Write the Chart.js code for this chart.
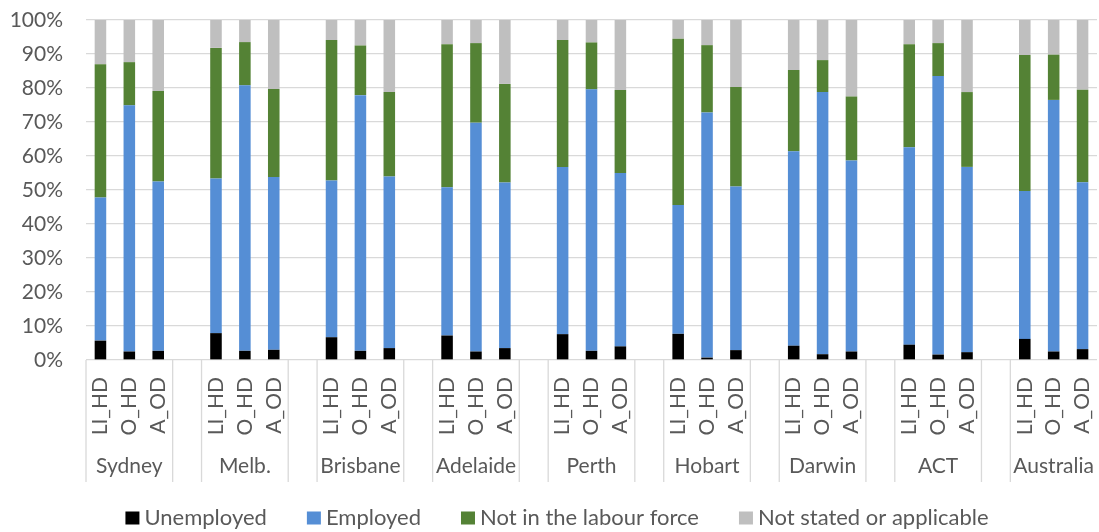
<!DOCTYPE html>
<html lang="en">
<head>
<meta charset="UTF-8">
<title>Labour force status by dwelling type</title>
<script src="https://cdn.jsdelivr.net/npm/chart.js"></script>
<style>
  html, body { margin: 0; padding: 0; background: #fff; }
  #wrap { width: 1099px; height: 532px; }
</style>
</head>
<body>
<div id="wrap"><canvas id="labourChart"></canvas></div>
<script>
    const cities = ["Sydney", "Melb.", "Brisbane", "Adelaide", "Perth", "Hobart", "Darwin", "ACT", "Australia"];
    const dwellingTypes = ["LI_HD", "O_HD", "A_OD"];

    // Shares in %, three per city in LI_HD, O_HD, A_OD order
    const unemployed = [5.7, 2.5, 2.7, 7.9, 2.7, 3.0, 6.7, 2.7, 3.5, 7.2, 2.5, 3.5, 7.6, 2.7, 4.0, 7.7, 0.7, 2.9, 4.2, 1.7, 2.5, 4.5, 1.6, 2.3, 6.2, 2.5, 3.2];
    const employed = [42.1, 72.4, 49.8, 45.5, 78.1, 50.8, 46.1, 75.2, 50.5, 43.6, 67.3, 48.7, 49.2, 76.9, 51.0, 37.9, 72.1, 48.1, 57.2, 77.1, 56.2, 58.1, 81.9, 54.5, 43.5, 74.0, 49.1];
    const notInLabourForce = [39.2, 12.7, 26.6, 38.4, 12.7, 25.9, 41.3, 14.6, 24.8, 42.1, 23.4, 29.0, 37.3, 13.8, 24.4, 48.9, 19.8, 29.3, 23.9, 9.4, 18.8, 30.3, 9.7, 22.0, 40.0, 13.3, 27.2];
    const notStated = [13.0, 12.4, 20.9, 8.2, 6.5, 20.3, 5.9, 7.5, 21.2, 7.1, 6.8, 18.8, 5.9, 6.6, 20.6, 5.5, 7.4, 19.7, 14.7, 11.8, 22.5, 7.1, 6.8, 21.2, 10.3, 10.2, 20.5];

    const FONT = "Lato";
    const TEXT = "#595959";
    const LINE = "#d9d9d9";

    // One empty slot between city groups
    const labels = [];
    cities.forEach((city, ci) => {
        if (ci > 0) labels.push("");
        dwellingTypes.forEach(t => labels.push(t));
    });

    function spread(values) {
        const out = [];
        cities.forEach((city, ci) => {
            if (ci > 0) out.push(null);
            dwellingTypes.forEach((t, ti) => out.push(values[ci * 3 + ti]));
        });
        return out;
    }

    // Two-level category axis (dwelling type + city) and the legend row
    const groupAxis = {
        id: "groupAxis",
        afterDraw(chart) {
            const ctx = chart.ctx;
            const x = chart.scales.x;
            const slot = x.width / labels.length;
            const top = x.top;
            const bottom = x.bottom;

            ctx.save();
            ctx.strokeStyle = LINE;
            ctx.lineWidth = 1.3;
            ctx.fillStyle = TEXT;
            ctx.font = "21px " + FONT;

            // rotated dwelling-type labels, text ending near the axis
            labels.forEach((lab, i) => {
                if (!lab) return;
                ctx.save();
                ctx.translate(x.getPixelForValue(i), top + 17);
                ctx.rotate(-Math.PI / 2);
                ctx.textAlign = "right";
                ctx.textBaseline = "middle";
                ctx.fillText(lab, 0, 0);
                ctx.restore();
            });

            ctx.textAlign = "center";
            ctx.textBaseline = "middle";
            let i = 0;
            cities.forEach((city, ci) => {
                const left = x.getPixelForValue(i) - slot / 2;
                const right = x.getPixelForValue(i + 2) + slot / 2;
                ctx.beginPath();
                ctx.moveTo(left, top);
                ctx.lineTo(left, bottom);
                if (ci < cities.length - 1) {
                    ctx.moveTo(right, top);
                    ctx.lineTo(right, bottom);
                }
                ctx.stroke();
                ctx.fillText(city, x.getPixelForValue(i + 1), 466);
                i += 4;
            });

            // legend row
            ctx.font = "22px " + FONT;
            const items = chart.data.datasets.map(ds => ({
                text: ds.label,
                color: ds.backgroundColor,
                w: ctx.measureText(ds.label).width
            }));
            const box = 14, gap = 5, itemGap = 40;
            let total = 0;
            items.forEach((it, k) => { total += box + gap + it.w + (k ? itemGap : 0); });
            let lx = 557 - total / 2;
            const ly = 518;
            ctx.textAlign = "left";
            items.forEach(it => {
                ctx.fillStyle = it.color;
                ctx.fillRect(lx, ly - 6.5, box, 13);
                ctx.fillStyle = TEXT;
                ctx.fillText(it.text, lx + box + gap, ly);
                lx += box + gap + it.w + itemGap;
            });
            ctx.restore();
        }
    };

    new Chart(document.getElementById("labourChart"), {
        type: "bar",
        data: {
            labels: labels,
            datasets: [
                { label: "Unemployed", data: spread(unemployed), backgroundColor: "#000000" },
                { label: "Employed", data: spread(employed), backgroundColor: "#558ed5" },
                { label: "Not in the labour force", data: spread(notInLabourForce), backgroundColor: "#548235" },
                { label: "Not stated or applicable", data: spread(notStated), backgroundColor: "#bfbfbf" }
            ]
        },
        options: {
            responsive: true,
            maintainAspectRatio: false,
            animation: false,
            layout: { padding: { top: 20, right: 2, bottom: 50, left: 0 } },
            datasets: {
                bar: { barPercentage: 0.4, categoryPercentage: 1.0, borderWidth: 0 }
            },
            plugins: {
                legend: { display: false }
            },
            scales: {
                x: {
                    stacked: true,
                    grid: { display: false, drawTicks: false },
                    border: { display: false },
                    ticks: { display: false },
                    afterFit: s => { s.height = 122; }
                },
                y: {
                    stacked: true,
                    min: 0,
                    max: 100,
                    grid: { color: LINE, lineWidth: 1.3, drawTicks: false },
                    border: { display: false },
                    ticks: {
                        stepSize: 10,
                        padding: 23,
                        color: TEXT,
                        font: { family: FONT, size: 21 },
                        callback: v => v + "%"
                    },
                    // fixed axis width; tick padding should not push the plot down
                    afterFit: s => {
                        s.width = 86;
                        s.paddingTop = 0;
                        s.paddingBottom = 0;
                    }
                }
            }
        },
        plugins: [groupAxis]
    });
</script>
</body>
</html>
